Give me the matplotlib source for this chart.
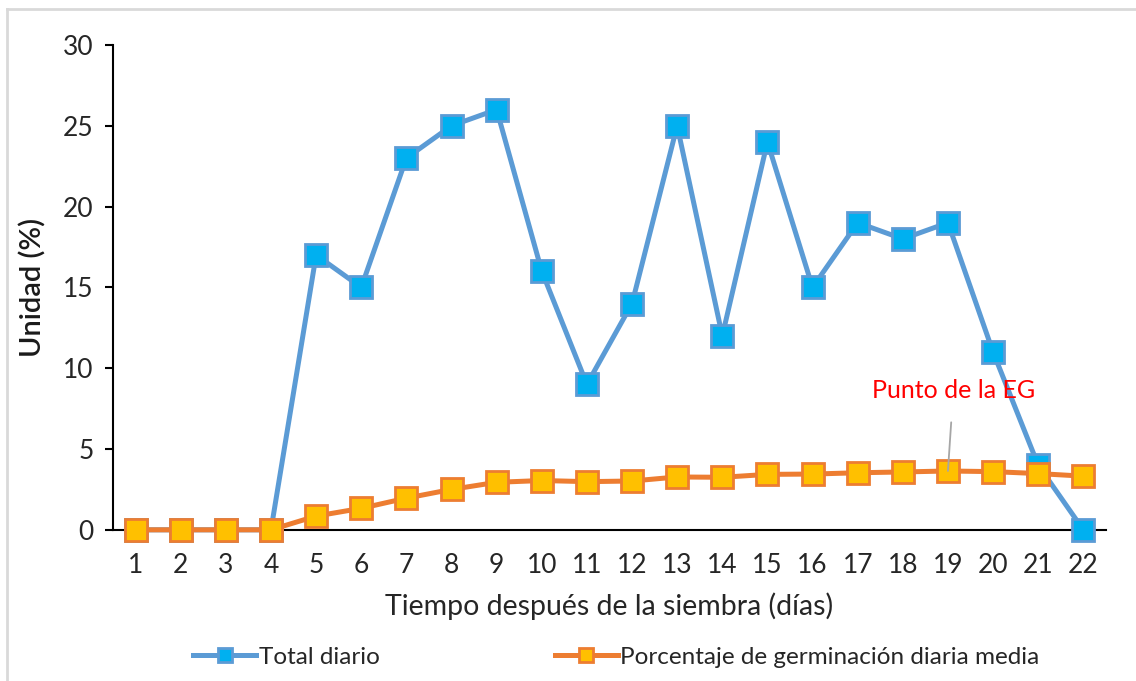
import matplotlib
matplotlib.use("Agg")
import matplotlib.pyplot as plt
from matplotlib.lines import Line2D

plt.rcParams['font.family'] = ['Lato', 'DejaVu Sans']

# datos
dias = list(range(1, 23))
total_diario = [0, 0, 0, 0, 17, 15, 23, 25, 26, 16, 9, 14, 25, 12, 24, 15, 19, 18, 19, 11, 4, 0]
germ_media = [0, 0, 0, 0, 0.85, 1.33, 1.96, 2.5, 2.94, 3.05, 2.98, 3.02, 3.27, 3.25,
              3.43, 3.45, 3.53, 3.58, 3.64, 3.6, 3.48, 3.32]
etiquetas = ["Total diario", "Porcentaje de germinación diaria media"]

fig = plt.figure(figsize=(11.36, 6.81), dpi=100)
ax = fig.add_axes([0.0995, 0.222, 0.874, 0.712])

ax.plot(dias, total_diario, color='#5B9BD5', lw=3.6, marker='s', markersize=15.5,
        markerfacecolor='#00B0F0', markeredgecolor='#5B9BD5', markeredgewidth=2,
        label=etiquetas[0], zorder=3, clip_on=False)
ax.plot(dias, germ_media, color='#ED7D31', lw=3.6, marker='s', markersize=15.5,
        markerfacecolor='#FFC000', markeredgecolor='#ED7D31', markeredgewidth=2,
        label=etiquetas[1], zorder=4, clip_on=False)

ax.annotate("Punto de la EG", xy=(19, germ_media[18]), xytext=(19.12, 8.65),
            color='#FF0000', fontsize=18, ha='center', va='center',
            arrowprops=dict(arrowstyle='-', color='#A6A6A6', lw=1.3, shrinkA=13, shrinkB=0),
            zorder=5)

ax.set_xlim(0.5, 22.5)
ax.set_ylim(0, 30)
ax.set_xticks(dias)
ax.set_yticks(range(0, 31, 5))
ax.tick_params(axis='x', length=0, labelsize=19, pad=17)
ax.tick_params(axis='y', length=6, width=1.5, labelsize=19, pad=8)
for lab in ax.get_xticklabels() + ax.get_yticklabels():
    lab.set_color('#262626')

for s in ['top', 'right']:
    ax.spines[s].set_visible(False)
ax.spines['left'].set_linewidth(1.5)
ax.spines['bottom'].set_linewidth(1.5)

ax.set_ylabel("Unidad (%)", fontsize=21, fontweight='semibold', labelpad=12, color='#1a1a1a')
ax.set_xlabel("Tiempo después de la siembra (días)", fontsize=20.5, labelpad=10, color='#262626')

leg = ax.legend(loc='center', bbox_to_anchor=(0.507, -0.263), ncol=2, frameon=False,
                fontsize=17.5, columnspacing=7.2, handlelength=2.6, handletextpad=0.1,
                markerscale=0.65)
for t in leg.get_texts():
    t.set_color('#262626')

# marco gris del gráfico
fig.add_artist(Line2D([0.006, 1.0], [0.987, 0.987], color='#D9D9D9', lw=2))
fig.add_artist(Line2D([0.006, 0.006], [0.0, 0.987], color='#D9D9D9', lw=2))

fig.savefig("out.png", dpi=100)
